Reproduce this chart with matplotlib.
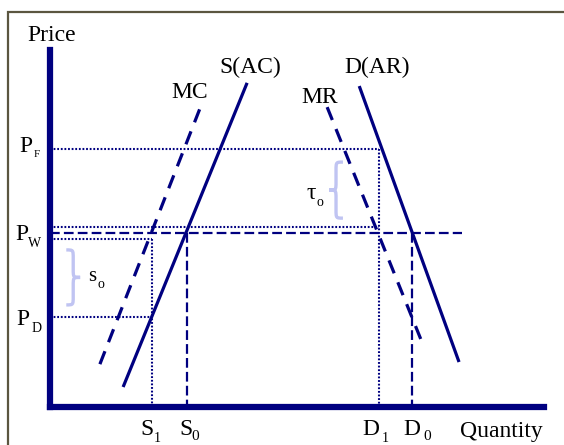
import numpy as np
import matplotlib.pyplot as plt
from matplotlib.path import Path
from matplotlib.patches import PathPatch, Rectangle

plt.rcParams['font.family'] = ['Liberation Serif', 'DejaVu Serif']
plt.rcParams['lines.scale_dashes'] = False

navy = '#000080'
brace_col = '#c0c4f2'
frame_col = '#5b5640'

# curve end points (quantity, price)
supply_q = [14.8, 39.9]
supply_p = [5.6, 90.8]
mc_q = [10.1, 30.8]
mc_p = [12.0, 85.2]
demand_q = [62.6, 82.8]
demand_p = [89.9, 12.6]
mr_q = [56.1, 75.7]
mr_p = [84.0, 16.8]

# price levels
p_f = 72.3
p_w = 48.7
p_w_hi = 50.4
p_w_lo = 47.1
p_d = 25.2
# quantity levels
s1, s0, d1, d0 = 20.6, 27.7, 66.6, 73.3
q_end = 83.4

fig = plt.figure(figsize=(5.64, 4.45), dpi=100, facecolor='white')
ax = fig.add_axes([50/564, 38/445, 494/564, 357/445])
ax.set_xlim(0, 100)
ax.set_ylim(0, 100)
ax.set_xticks([])
ax.set_yticks([])
for s in ['top', 'right']:
    ax.spines[s].set_visible(False)
for s in ['left', 'bottom']:
    ax.spines[s].set_linewidth(4.5)
    ax.spines[s].set_color(navy)
    ax.spines[s].set_capstyle('projecting')

# outer frame
fig.patches.append(Rectangle((8/564, -0.1), 1.0, (445-12)/445 + 0.1, transform=fig.transFigure,
                             fill=False, edgecolor=frame_col, lw=1.6))

# curves
ax.plot(supply_q, supply_p, color=navy, lw=2.3, solid_capstyle='butt')
ax.plot(demand_q, demand_p, color=navy, lw=2.3, solid_capstyle='butt')
ax.plot(mc_q, mc_p, color=navy, lw=2.3, dashes=(10, 7), dash_capstyle='butt')
ax.plot(mr_q, mr_p, color=navy, lw=2.3, dashes=(10, 7), dash_capstyle='butt')

dotted = dict(color=navy, lw=1.5, dashes=(1.3, 1.3), clip_on=False)
ax.plot([0, d1], [p_f, p_f], **dotted)
ax.plot([d1, d1], [p_f, 0], **dotted)
ax.plot([0, d1], [p_w_hi, p_w_hi], **dotted)
ax.plot([0, s1], [p_w_lo, p_w_lo], **dotted)
ax.plot([s1, s1], [p_w_lo, 0], **dotted)
ax.plot([0, s1], [p_d, p_d], **dotted)

dashed = dict(color=navy, lw=1.6, dashes=(7, 3), clip_on=False)
ax.plot([0, q_end], [p_w, p_w], **dashed)
ax.plot([s0, s0], [p_w, -1.4], **dashed)
ax.plot([d0, d0], [p_w, 0], **dashed)


def brace(xl, xr, y0, y1, r):
    xm = (xl + xr) / 2
    ym = (y0 + y1) / 2
    verts = [(xl, y1), (xm, y1), (xm, y1), (xm, y1 - r),
             (xm, ym + r),
             (xm, ym), (xm, ym), (xr, ym),
             (xm, ym), (xm, ym), (xm, ym - r),
             (xm, y0 + r),
             (xm, y0), (xm, y0), (xl, y0)]
    codes = [Path.MOVETO, Path.CURVE4, Path.CURVE4, Path.CURVE4,
             Path.LINETO,
             Path.CURVE4, Path.CURVE4, Path.CURVE4,
             Path.CURVE4, Path.CURVE4, Path.CURVE4,
             Path.LINETO,
             Path.CURVE4, Path.CURVE4, Path.CURVE4]
    ax.add_patch(PathPatch(Path(verts, codes), fill=False, edgecolor=brace_col,
                           lw=2.4, clip_on=False))


brace(3.3, 6.1, 28.6, 44.0, 2.4)
brace(59.3, 56.5, 52.9, 68.6, 2.4)

big = 17
small = 10
txt = dict(ha='center', va='center', clip_on=False)
ax.text(0.4, 104.2, 'Price', fontsize=big, **txt)
ax.text(91.3, -7.0, 'Quantity', fontsize=big, **txt)
ax.text(40.5, 95.2, 'S(AC)', fontsize=big, **txt)
ax.text(28.2, 88.2, 'MC', fontsize=big, **txt)
ax.text(66.2, 95.0, 'D(AR)', fontsize=big, **txt)
ax.text(54.5, 86.6, 'MR', fontsize=big, **txt)

ax.text(-4.8, 73.1, 'P', fontsize=big, **txt)
ax.text(-2.6, 70.6, 'F', fontsize=8, **txt)
ax.text(-5.7, 48.2, 'P', fontsize=big, **txt)
ax.text(-3.2, 45.9, 'W', fontsize=small, **txt)
ax.text(-5.5, 24.6, 'P', fontsize=big, **txt)
ax.text(-2.8, 22.1, 'D', fontsize=small, **txt)

ax.text(19.6, -6.2, 'S', fontsize=big, **txt)
ax.text(21.7, -8.7, '1', fontsize=small, **txt)
ax.text(27.5, -6.2, 'S', fontsize=big, **txt)
ax.text(29.4, -8.3, '0', fontsize=small + 1, **txt)
ax.text(65.0, -6.2, 'D', fontsize=big, **txt)
ax.text(67.8, -8.7, '1', fontsize=small, **txt)
ax.text(73.3, -6.2, 'D', fontsize=big, **txt)
ax.text(76.3, -8.3, '0', fontsize=small + 1, **txt)

ax.text(52.9, 59.9, '\u03c4', fontsize=big, **txt)
ax.text(54.7, 57.4, 'o', fontsize=small, **txt)
ax.text(8.5, 36.6, 's', fontsize=15, **txt)
ax.text(10.4, 34.2, 'o', fontsize=small, **txt)

plt.savefig('out.png', dpi=100, facecolor='white')
